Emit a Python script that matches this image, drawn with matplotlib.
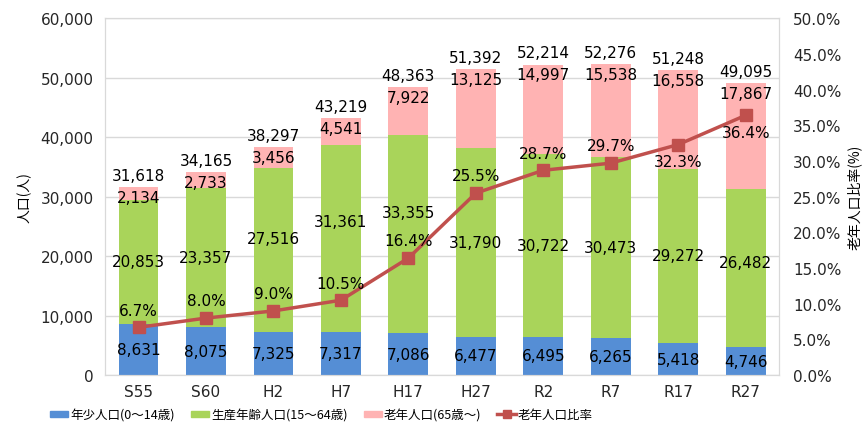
import numpy as np
import matplotlib
matplotlib.use("Agg")
import matplotlib.pyplot as plt
from matplotlib.ticker import FuncFormatter
from matplotlib.lines import Line2D
from matplotlib.patches import Patch

plt.rcParams['font.family'] = ['DejaVu Sans', 'Noto Sans CJK JP']

# data
years = ['S55', 'S60', 'H2', 'H7', 'H17', 'H27', 'R2', 'R7', 'R17', 'R27']
young = [8631, 8075, 7325, 7317, 7086, 6477, 6495, 6265, 5418, 4746]
working = [20853, 23357, 27516, 31361, 33355, 31790, 30722, 30473, 29272, 26482]
old = [2134, 2733, 3456, 4541, 7922, 13125, 14997, 15538, 16558, 17867]
total = [31618, 34165, 38297, 43219, 48363, 51392, 52214, 52276, 51248, 49095]
ratio = [6.7, 8.0, 9.0, 10.5, 16.4, 25.5, 28.7, 29.7, 32.3, 36.4]

c_young = '#558ED5'
c_work = '#A9D45A'
c_old = '#FFB3B3'
c_line = '#C0504D'
grid_c = '#D9D9D9'

fig = plt.figure(figsize=(8.66, 4.27), dpi=100)
ax = fig.add_axes([0.121, 0.119, 0.779, 0.836])
ax2 = ax.twinx()

x = np.arange(len(years))
w = 0.59
young = np.array(young)
working = np.array(working)
old = np.array(old)
ax.bar(x, young, w, color=c_young, zorder=2)
ax.bar(x, working, w, bottom=young, color=c_work, zorder=2)
ax.bar(x, old, w, bottom=young + working, color=c_old, zorder=2)

fs = 11
# label nudges (points) for the working-age labels that were moved to clear the % labels
work_nudge = [0, 0, 8, 12, 15, 0, 0, 0, 0, 4]
for i in range(len(years)):
    ax.annotate(f'{young[i]:,}', (x[i], young[i] / 2), ha='center', va='center',
                fontsize=fs, zorder=5)
    ax.annotate(f'{working[i]:,}', (x[i], young[i] + working[i] / 2),
                xytext=(0, work_nudge[i]), textcoords='offset points',
                ha='center', va='center', fontsize=fs, zorder=5)
    top = young[i] + working[i] + old[i]
    ax.annotate(f'{old[i]:,}', (x[i], top), xytext=(0, -2), textcoords='offset points',
                ha='center', va='top', fontsize=fs, zorder=5)
    ax.annotate(f'{total[i]:,}', (x[i], top), xytext=(0, 3), textcoords='offset points',
                ha='center', va='bottom', fontsize=fs, zorder=5)

ax.set_ylim(0, 60000)
ax.set_xlim(-0.5, len(years) - 0.5)
ax.set_yticks(np.arange(0, 60001, 10000))
ax.yaxis.set_major_formatter(FuncFormatter(lambda v, p: f'{int(v):,}'))
ax.set_xticks(x)
ax.set_xticklabels(years)
ax.yaxis.grid(True, color=grid_c, linewidth=1, zorder=0)
ax.set_axisbelow(True)
jp = ['Noto Sans CJK JP', 'DejaVu Sans']
ax.set_ylabel('人口(人)', fontsize=10, labelpad=6, family=jp)

ax2.plot(x, ratio, color=c_line, linewidth=2.5, marker='s', markersize=8, zorder=4)
ax2.set_ylim(0, 50)
ax2.set_yticks(np.arange(0, 50.1, 5))
ax2.yaxis.set_major_formatter(FuncFormatter(lambda v, p: f'{v:.1f}%'))
ax2.set_ylabel('老年人口比率(%)', fontsize=10, rotation=90, labelpad=4, family=jp)
for i in range(len(years)):
    below = i >= 8
    ax2.annotate(f'{ratio[i]:.1f}%', (x[i], ratio[i]),
                 xytext=(0, -7 if below else 7), textcoords='offset points',
                 ha='center', va='top' if below else 'bottom', fontsize=fs, zorder=6)

for a in (ax, ax2):
    for s in a.spines.values():
        s.set_color(grid_c)
    a.tick_params(length=0, labelsize=fs, colors='#262626')
ax.tick_params(axis='y', pad=8)
ax2.tick_params(axis='y', pad=10)
ax.tick_params(axis='x', pad=6)

handles = [Patch(color=c_young, label='年少人口(0～14歳)'),
           Patch(color=c_work, label='生産年齢人口(15～64歳)'),
           Patch(color=c_old, label='老年人口(65歳～)'),
           Line2D([0], [0], color=c_line, linewidth=2.5, marker='s', markersize=6,
                  label='老年人口比率')]
fig.legend(handles=handles, loc='lower left', bbox_to_anchor=(0.045, -0.015), ncol=4,
           frameon=False, prop={'family': jp, 'size': 9}, handlelength=1.45,
           handleheight=0.4, columnspacing=1.3, handletextpad=0.15)

fig.savefig('out.png', dpi=100)
